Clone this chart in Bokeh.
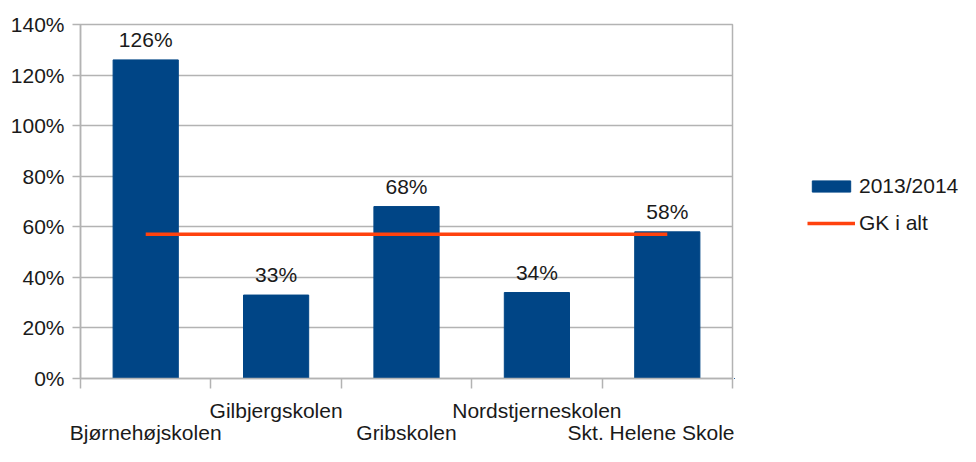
from bokeh.plotting import figure
from bokeh.layouts import row
from bokeh.models import (Range1d, FixedTicker, LinearAxis, Legend, LegendItem,
                          ColumnDataSource)
from bokeh.core.properties import value
from bokeh.embed import file_html
from bokeh.resources import INLINE

schools = ["Bjørnehøjskolen", "Gilbjergskolen", "Gribskolen",
           "Nordstjerneskolen", "Skt. Helene Skole"]
share_2013_2014 = [126, 33, 68, 34, 58]
gk_i_alt = [57, 57, 57, 57, 57]
y_ticks = [0, 20, 40, 60, 80, 100, 120, 140]
y_tick_labels = ["0%", "20%", "40%", "60%", "80%", "100%", "120%", "140%"]
series_names = ["2013/2014", "GK i alt"]

BLUE = "#004586"
RED = "#ff420e"
GRID = "#b3b3b3"
FONT = "Liberation Sans"
FS = "21px"
TXT = "#1a1a1a"

idx = list(range(len(schools)))
src = ColumnDataSource(dict(
    x=idx, top=share_2013_2014, gk=gk_i_alt,
    lbl=[f"{v}%" for v in share_2013_2014],
))

W, H = 960, 446
W1 = 734
p = figure(width=W1, height=H, output_backend="svg", toolbar_location=None,
           x_range=Range1d(-0.5, len(schools) - 0.5),
           y_range=Range1d(0, 140),
           x_axis_location=None, y_axis_location=None,
           min_border_left=80, min_border_right=2,
           min_border_top=24, min_border_bottom=66)
p.background_fill_color = "white"
p.border_fill_color = "white"
p.outline_line_color = GRID
p.outline_line_width = 1.5

# y axis
yax = LinearAxis(ticker=FixedTicker(ticks=y_ticks))
yax.major_label_overrides = {t: l for t, l in zip(y_ticks, y_tick_labels)}
yax.axis_line_color = GRID
yax.axis_line_width = 1.5
yax.major_tick_line_color = GRID
yax.major_tick_line_width = 1.5
yax.major_tick_out = 8
yax.major_tick_in = 0
yax.minor_tick_line_color = None
yax.major_label_standoff = 8
yax.major_label_text_font = FONT
yax.major_label_text_font_size = FS
yax.major_label_text_color = TXT
p.add_layout(yax, "left")

p.ygrid.ticker = FixedTicker(ticks=y_ticks)
p.ygrid.grid_line_color = GRID
p.ygrid.grid_line_width = 1.5
p.xgrid.grid_line_color = None

# x axis row 1 (closest)
bounds = [i - 0.5 for i in range(len(schools) + 1)]
row1 = [i for i in idx if i % 2 == 1]
row2 = [i for i in idx if i % 2 == 0]
xax1 = LinearAxis(ticker=FixedTicker(ticks=row1, minor_ticks=bounds))
xax1.major_label_overrides = {i: schools[i] for i in row1}
xax1.axis_line_color = GRID
xax1.axis_line_width = 1.5
xax1.major_tick_out = 0
xax1.major_tick_in = 0
xax1.major_tick_line_color = None
xax1.minor_tick_line_color = GRID
xax1.minor_tick_line_width = 1.5
xax1.minor_tick_out = 10
xax1.minor_tick_in = 0
xax1.major_label_standoff = 10
xax1.major_label_text_font = FONT
xax1.major_label_text_font_size = FS
xax1.major_label_text_color = TXT
p.add_layout(xax1, "below")

xax2 = LinearAxis(ticker=FixedTicker(ticks=row2, minor_ticks=[]))
xax2.major_label_overrides = {i: schools[i] for i in row2}
xax2.axis_line_color = None
xax2.major_tick_line_color = None
xax2.minor_tick_line_color = None
xax2.major_tick_out = 0
xax2.major_tick_in = 0
xax2.major_label_standoff = -4
xax2.major_label_text_font = FONT
xax2.major_label_text_font_size = FS
xax2.major_label_text_color = TXT
p.add_layout(xax2, "below")

p.vbar(x="x", top="top", width=0.5, bottom=0, source=src,
       fill_color=BLUE, line_color=BLUE)
p.line(x="x", y="gk", source=src, line_color=RED, line_width=3.5)

p.text(x="x", y="top", text="lbl", source=src, text_align="center",
       text_baseline="bottom", y_offset=-9,
       text_font=value(FONT), text_font_size=FS, text_color=TXT)

# legend panel: same series, drawn outside its visible range
pl = figure(width=W - W1, height=H, output_backend="svg", toolbar_location=None,
            x_range=Range1d(100, 101), y_range=Range1d(1000, 1001),
            x_axis_location=None, y_axis_location=None,
            min_border_left=0, min_border_right=0,
            min_border_top=0, min_border_bottom=0)
pl.outline_line_color = None
pl.grid.grid_line_color = None
lb = pl.vbar(x="x", top="top", width=0.5, bottom=0, source=src,
             fill_color=BLUE, line_color=BLUE)
ll = pl.line(x="x", y="gk", source=src, line_color=RED, line_width=3.5)

legend = Legend(items=[LegendItem(label=series_names[0], renderers=[lb]),
                       LegendItem(label=series_names[1], renderers=[ll])],
                location=(73, 143))
legend.border_line_color = None
legend.background_fill_alpha = 0
legend.margin = 0
legend.padding = 0
legend.glyph_width = 48
legend.glyph_height = 14
legend.label_height = 20
legend.spacing = 13
legend.label_standoff = 4
legend.label_text_font = FONT
legend.label_text_font_size = FS
legend.label_text_color = TXT
pl.add_layout(legend, "center")

layout = row(p, pl, spacing=0)
open("out.html", "w").write(file_html(layout, INLINE))
